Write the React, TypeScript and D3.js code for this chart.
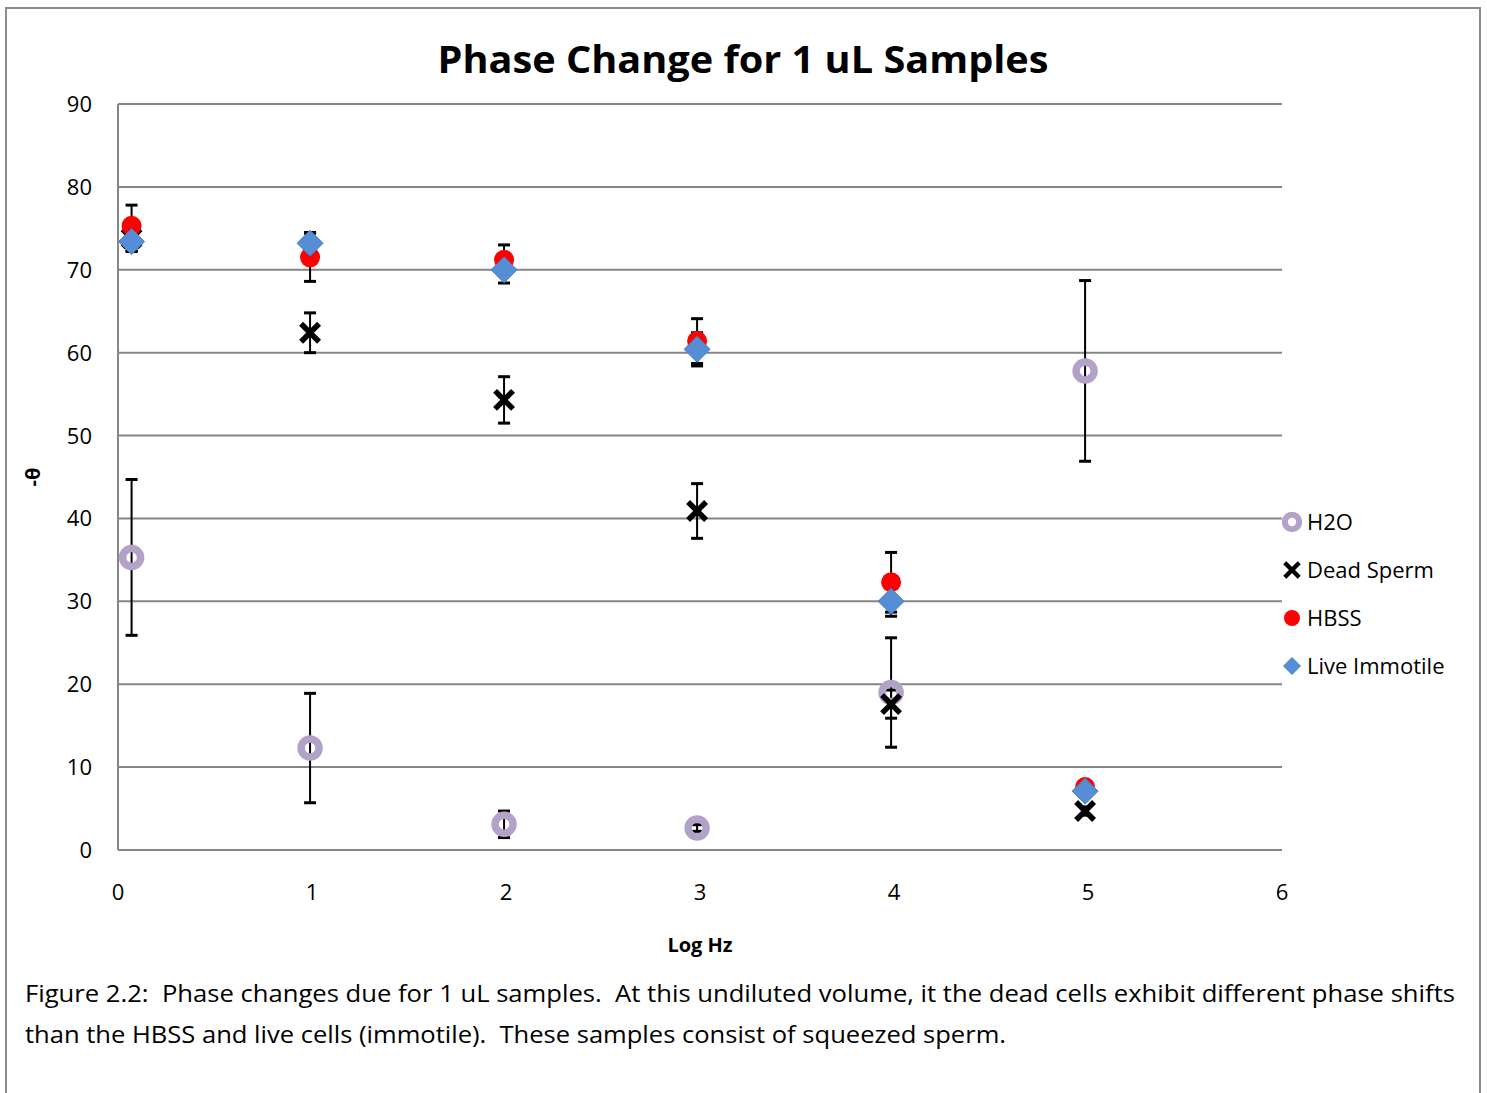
import React from "react"
import * as d3 from "d3"

// log Hz positions of the measurements
const xValues = [0.07, 0.99, 1.99, 2.985, 3.985, 4.985]

const h2o = [35.3, 12.3, 3.1, 2.65, 19.0, 57.8]
const h2oErr = [9.4, 6.6, 1.6, 0.4, 6.6, 10.9]
const deadSperm = [73.8, 62.4, 54.3, 40.9, 17.6, 4.7]
const deadSpermErr = [1.5, 2.4, 2.8, 3.3, 1.7, 0.5]
const hbss = [75.3, 71.5, 71.2, 61.4, 32.3, 7.6]
const hbssErr = [2.5, 2.9, 1.8, 2.7, 3.6, 0.5]
const liveImmotile = [73.4, 73.2, 70.0, 60.4, 30.0, 7.1]
const liveImmotileErr = [1.2, 1.3, 1.6, 2.0, 1.8, 0.5]

const yTicks = [0, 10, 20, 30, 40, 50, 60, 70, 80, 90]
const xTicks = [0, 1, 2, 3, 4, 5, 6]

const W = 1487
const H = 1093
const FONT = "'Open Sans', 'Noto Sans', sans-serif"

const x = d3.scaleLinear().domain([0, 6]).range([118, 1282])
const y = d3.scaleLinear().domain([0, 90]).range([850, 104])

const series = [
  { name: "H2O", values: h2o, err: h2oErr, kind: "ring" },
  { name: "Dead Sperm", values: deadSperm, err: deadSpermErr, kind: "cross" },
  { name: "HBSS", values: hbss, err: hbssErr, kind: "dot" },
  { name: "Live Immotile", values: liveImmotile, err: liveImmotileErr, kind: "diamond" },
]

const Marker = ({ kind, cx, cy, s = 1 }) => {
  if (kind === "ring")
    return <circle cx={cx} cy={cy} r={9 * s} fill="none" stroke="#b3a2c7" strokeWidth={7.5 * s} />
  if (kind === "cross") {
    const d = 9 * s
    return (
      <path
        d={`M${cx - d},${cy - d}L${cx + d},${cy + d}M${cx - d},${cy + d}L${cx + d},${cy - d}`}
        stroke="#000"
        strokeWidth={5.5 * s}
      />
    )
  }
  if (kind === "dot") return <circle cx={cx} cy={cy} r={10 * s} fill="#ff0000" />
  const d = 13 * s
  return (
    <path
      d={`M${cx},${cy - d}L${cx + d},${cy}L${cx},${cy + d}L${cx - d},${cy}Z`}
      fill="#558ed5"
      stroke="#4a7fc0"
      strokeWidth={1}
    />
  )
}

const App = () => {
  const legendY = [522, 570, 618, 666]

  return (
    <svg width={W} height={H} style={{ position: "absolute", left: 0, top: 0, background: "#fff" }}>
      <rect x={6} y={8} width={1474} height={1100} fill="#fff" stroke="#8c8c8c" strokeWidth={2} />

      <text x={743} y={73} textAnchor="middle" fontFamily={FONT} fontWeight="bold" fontSize={38}
        textLength={611} lengthAdjust="spacingAndGlyphs">
        Phase Change for 1 uL Samples
      </text>

      {/* grid */}
      {yTicks.map((t) => (
        <g key={t}>
          <line x1={x(0)} x2={x(6)} y1={y(t)} y2={y(t)} stroke="#868686" strokeWidth={2} />
          <text x={92} y={y(t) + 8} textAnchor="end" fontFamily={FONT} fontSize={22}>
            {t}
          </text>
        </g>
      ))}
      <line x1={x(0)} x2={x(0)} y1={y(90)} y2={y(0)} stroke="#868686" strokeWidth={2} />
      {xTicks.map((t) => (
        <text key={t} x={x(t)} y={900} textAnchor="middle" fontFamily={FONT} fontSize={22}>
          {t}
        </text>
      ))}

      <text x={700} y={952} textAnchor="middle" fontFamily={FONT} fontWeight="bold" fontSize={20}>
        Log Hz
      </text>
      <text transform="translate(40,477) rotate(-90)" textAnchor="middle" fontFamily={FONT}
        fontWeight="bold" fontSize={20}>
        -θ
      </text>

      {/* error bars */}
      {series.map((s) =>
        s.values.map((v, i) => {
          const cx = x(xValues[i])
          const top = y(v + s.err[i])
          const bot = y(v - s.err[i])
          return (
            <g key={s.name + i} stroke="#000">
              <line x1={cx} x2={cx} y1={top} y2={bot} strokeWidth={2} />
              <line x1={cx - 6} x2={cx + 6} y1={top} y2={top} strokeWidth={3} />
              <line x1={cx - 6} x2={cx + 6} y1={bot} y2={bot} strokeWidth={3} />
            </g>
          )
        })
      )}

      {/* markers */}
      {series.map((s) =>
        s.values.map((v, i) => (
          <Marker key={s.name + "m" + i} kind={s.kind} cx={x(xValues[i])} cy={y(v)} />
        ))
      )}

      {/* legend */}
      {series.map((s, i) => (
        <g key={s.name + "leg"}>
          <Marker kind={s.kind} cx={1292} cy={legendY[i]} s={s.kind === "diamond" ? 0.65 : 0.8} />
          <text x={1307} y={legendY[i] + 8} fontFamily={FONT} fontSize={22}>
            {s.name}
          </text>
        </g>
      ))}

      <text x={25} y={1002} fontFamily={FONT} fontSize={24} textLength={1430} lengthAdjust="spacingAndGlyphs"
        style={{ whiteSpace: "pre" }}>
        {"Figure 2.2:  Phase changes due for 1 uL samples.  At this undiluted volume, it the dead cells exhibit different phase shifts"}
      </text>
      <text x={25} y={1043} fontFamily={FONT} fontSize={24} textLength={981} lengthAdjust="spacingAndGlyphs"
        style={{ whiteSpace: "pre" }}>
        {"than the HBSS and live cells (immotile).  These samples consist of squeezed sperm."}
      </text>
    </svg>
  )
}

export default App
